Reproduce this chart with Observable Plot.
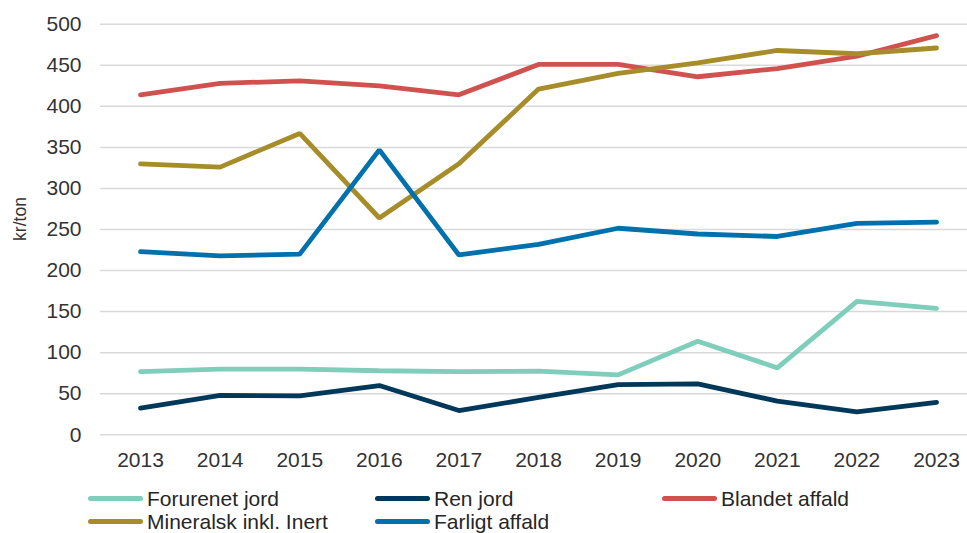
<!DOCTYPE html>
<html>
<head>
<meta charset="utf-8">
<script src="https://cdn.jsdelivr.net/npm/d3@7"></script>
<script src="https://cdn.jsdelivr.net/npm/@observablehq/plot@0.6"></script>
<style>
  html, body { margin: 0; padding: 0; background: #fff; }
  body { width: 967px; height: 533px; overflow: hidden; font-family: "Liberation Sans", Arial, sans-serif; position: relative; }
  #legend { position: absolute; left: 0; top: 0; width: 967px; height: 533px; pointer-events: none; }
  .item { position: absolute; display: flex; align-items: center; font-size: 21px; line-height: 21px; color: #262626; white-space: nowrap; }
  .sw { width: 55px; height: 5px; border-radius: 3px; margin-right: 4px; }
</style>
</head>
<body>
<div id="chart"></div>
<div id="legend"></div>
<script>
const years = [2013, 2014, 2015, 2016, 2017, 2018, 2019, 2020, 2021, 2022, 2023];
const yTicks = [0, 50, 100, 150, 200, 250, 300, 350, 400, 450, 500];
const seriesNames = ["Forurenet jord", "Ren jord", "Blandet affald", "Mineralsk inkl. Inert", "Farligt affald"];
const seriesColors = ["#7fcdbb", "#00385a", "#d0524f", "#a68d2a", "#0071ad"];

const forurenetJord = [77, 80, 80, 78, 77, 77.5, 73, 114, 81.5, 162.5, 154];
const renJord = [32.5, 48, 47.5, 60, 29.5, 45.5, 61, 62, 41, 28, 39.5];
const blandetAffald = [414, 428, 431, 425, 414, 451, 451, 436, 446, 461, 486];
const mineralskInert = [330, 326, 367, 264, 330, 421, 440, 453, 468, 464, 471];
const farligtAffald = [223, 218, 220, 347, 219, 232, 251.5, 244.5, 241.5, 257.5, 259];

const seriesValues = [forurenetJord, renJord, blandetAffald, mineralskInert, farligtAffald];
const data = [];
seriesNames.forEach((name, i) => {
  years.forEach((yr, j) => data.push({series: name, year: yr, value: seriesValues[i][j]}));
});

const drawOrder = ["Forurenet jord", "Ren jord", "Blandet affald", "Mineralsk inkl. Inert", "Farligt affald"];

const chart = Plot.plot({
  width: 967,
  height: 480,
  marginLeft: 100,
  marginRight: 0,
  marginTop: 23.7,
  marginBottom: 45.7,
  style: {fontFamily: "'Liberation Sans', Arial, sans-serif", fontSize: "21px", color: "#333", background: "white"},
  x: {type: "linear", domain: [2012.497, 2023.389]},
  y: {domain: [0, 500]},
  color: {domain: seriesNames, range: seriesColors},
  marks: [
    Plot.ruleY(yTicks, {stroke: "#d9d9d9", strokeWidth: 1.5}),
    Plot.axisY({ticks: yTicks, tickSize: 0, tickPadding: 19, label: null, fill: "#333", fontSize: 21}),
    Plot.axisX({ticks: years, tickSize: 0, tickPadding: 17, tickFormat: d => String(d), label: null, fill: "#333", fontSize: 21}),
    ...drawOrder.map(name => Plot.line(data.filter(d => d.series === name), {
      x: "year", y: "value", stroke: seriesColors[seriesNames.indexOf(name)], strokeWidth: 4.8,
      strokeLinecap: "round", strokeLinejoin: "miter", curve: "linear"
    })),
    Plot.text(["kr/ton"], {frameAnchor: "left", textAnchor: "middle", dx: -80, dy: -10.5, rotate: -90, fontSize: 17.5, fill: "#333", text: d => d})
  ]
});
document.getElementById("chart").appendChild(chart);

const legendPos = [[88, 498.5], [375, 498.5], [662, 498.5], [88, 521.5], [375, 521.5]];
const leg = document.getElementById("legend");
seriesNames.forEach((name, i) => {
  const it = document.createElement("div");
  it.className = "item";
  it.style.left = legendPos[i][0] + "px";
  it.style.top = (legendPos[i][1] - 10.5) + "px";
  it.style.height = "21px";
  const sw = document.createElement("span");
  sw.className = "sw";
  sw.style.background = seriesColors[i];
  const tx = document.createElement("span");
  tx.textContent = name;
  it.appendChild(sw);
  it.appendChild(tx);
  leg.appendChild(it);
});
</script>
</body>
</html>
